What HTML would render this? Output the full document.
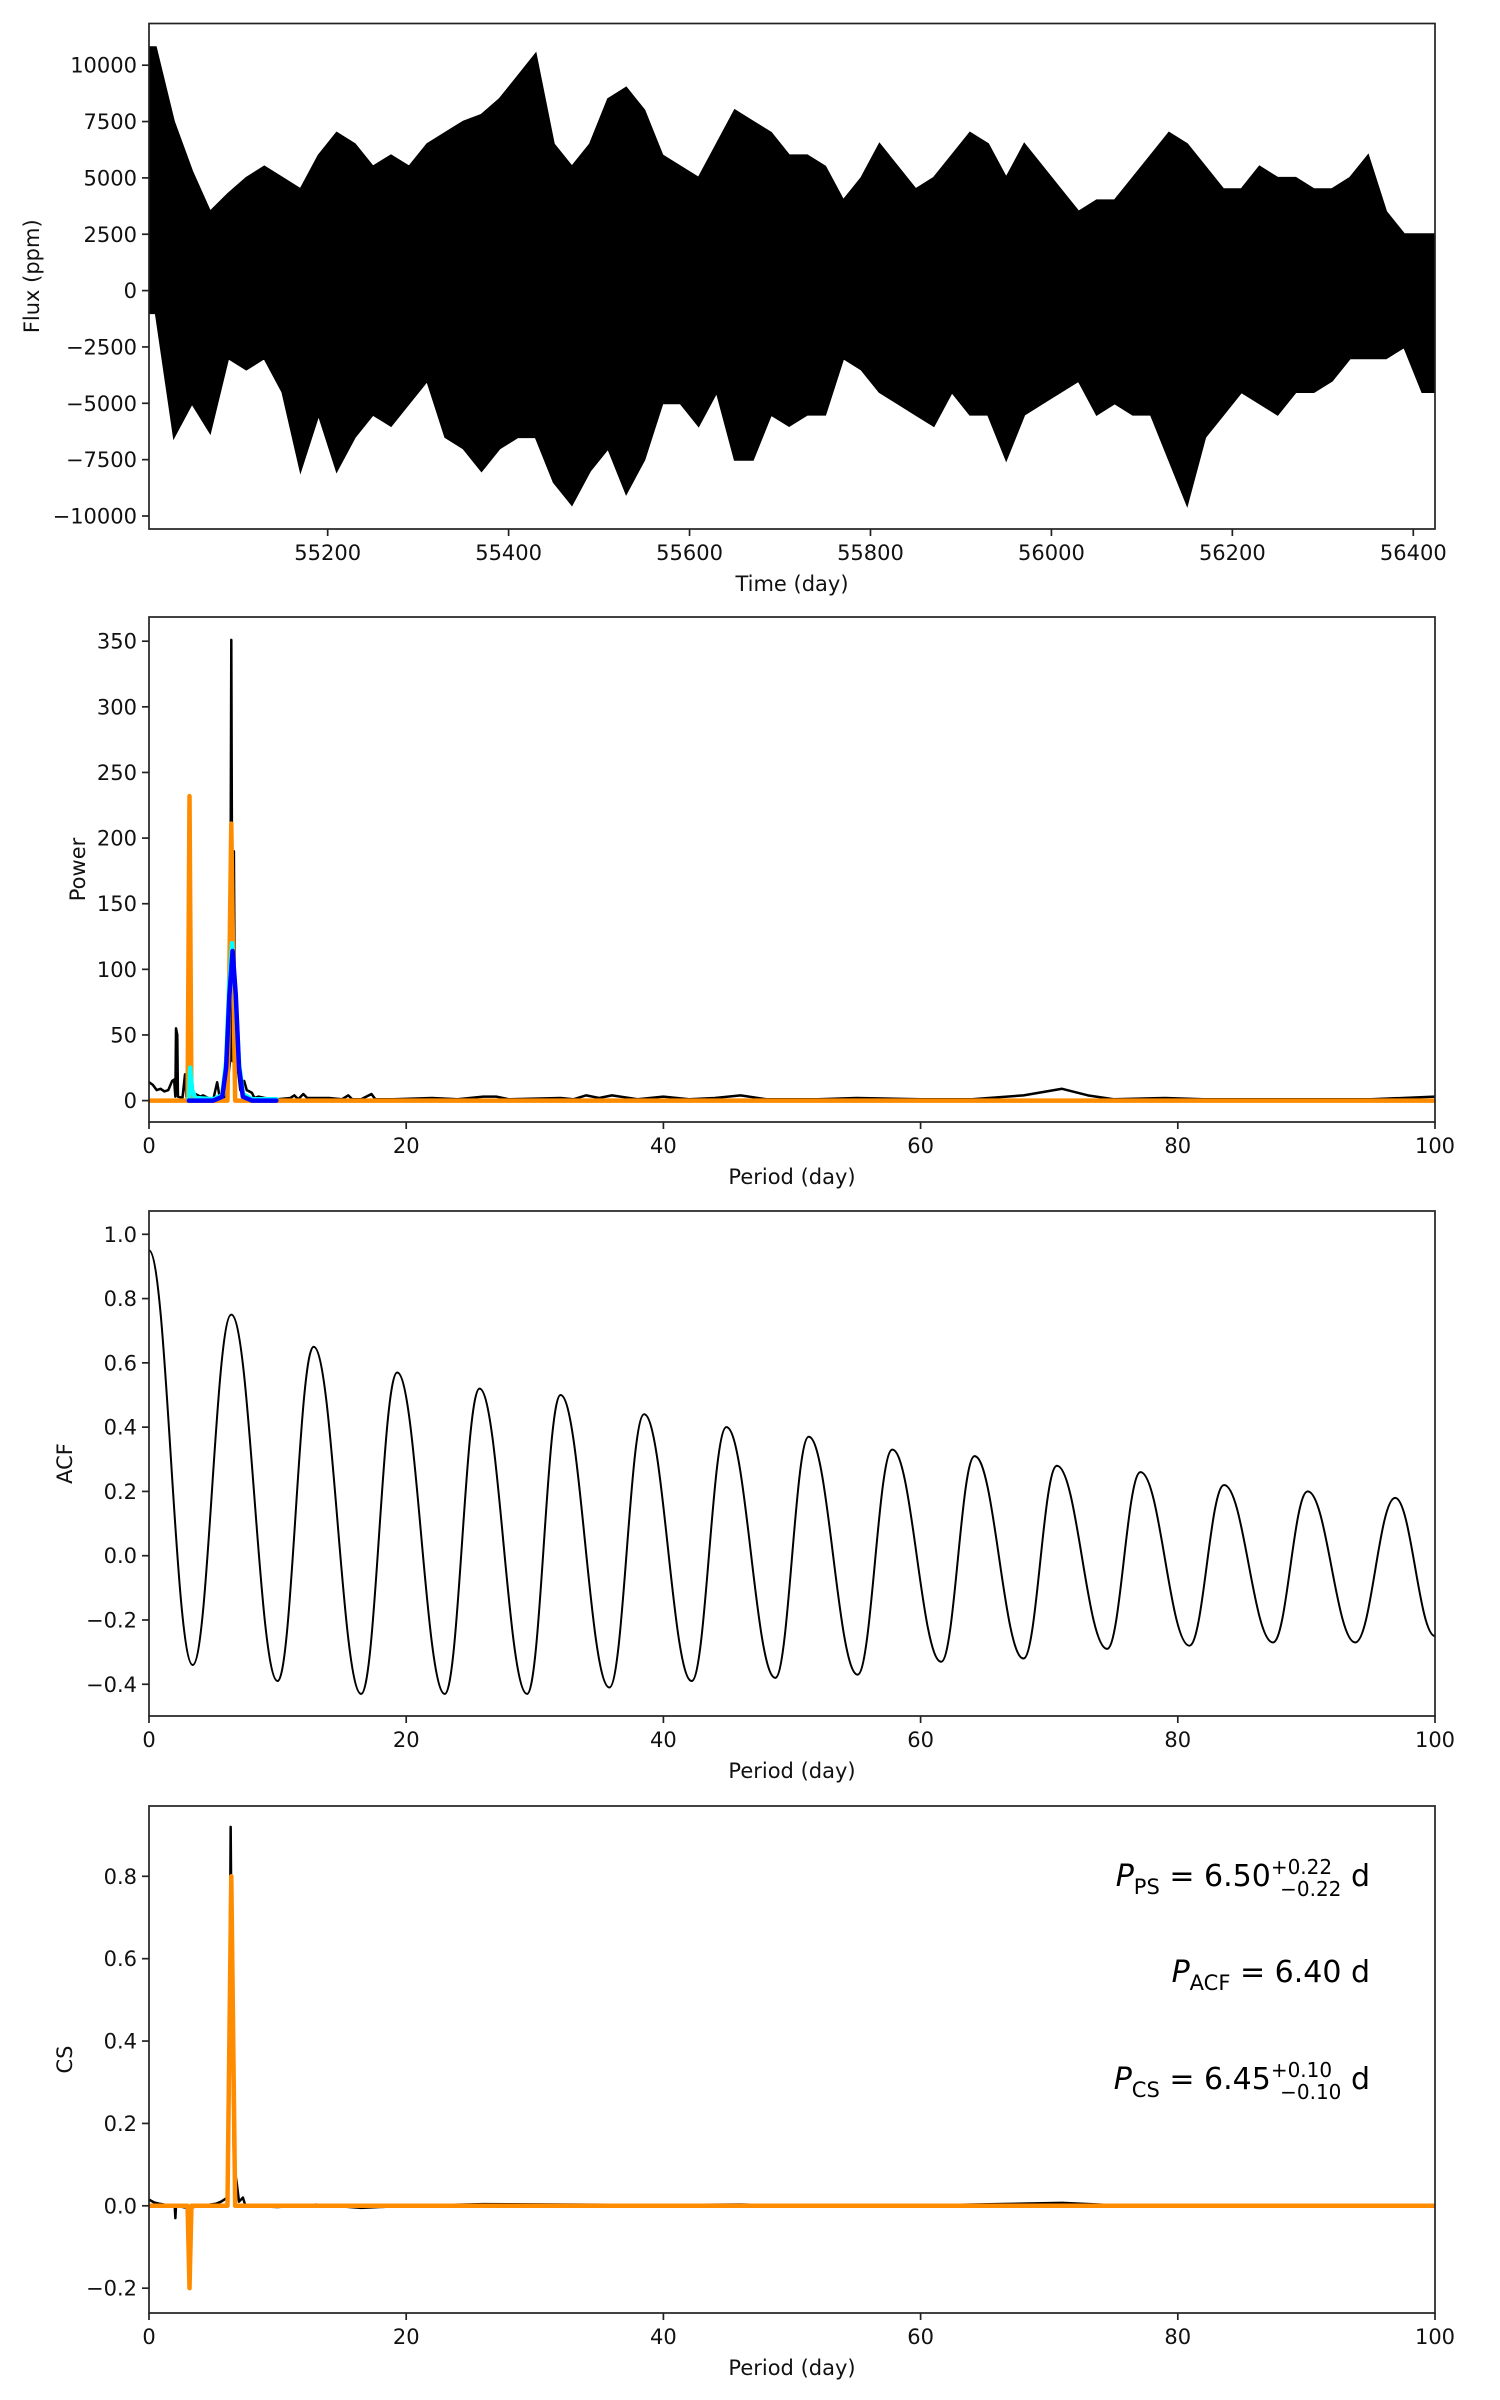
<!DOCTYPE html>
<html><head><meta charset="utf-8">
<style>
html,body{margin:0;padding:0;background:#fff;}
svg{display:block;font-family:"DejaVu Sans","Liberation Sans",sans-serif;}
</style></head>
<body>
<svg id="fig" width="1500" height="2400" viewBox="0 0 1500 2400" xmlns="http://www.w3.org/2000/svg">
<rect width="1500" height="2400" fill="#fff"/>
</svg>
<script>
// ---------- data ----------
const lcTime = [55010,55030,55050,55070,55090,55110,55130,55150,55170,55190,55210,55230,55250,55270,55290,55310,55330,55350,55370,55390,55410,55430,55450,55470,55490,55510,55530,55550,55570,55590,55610,55630,55650,55670,55690,55710,55730,55750,55770,55790,55810,55830,55850,55870,55890,55910,55930,55950,55970,55990,56010,56030,56050,56070,56090,56110,56130,56150,56170,56190,56210,56230,56250,56270,56290,56310,56330,56350,56370,56390,56410];
const lcUpper = [10800,7500,5300,3500,4300,5000,5500,5000,4500,6000,7000,6500,5500,6000,5500,6500,7000,7500,7800,8500,9500,10500,6500,5500,6500,8500,9000,8000,6000,5500,5000,6500,8000,7500,7000,6000,6000,5500,4000,5000,6500,5500,4500,5000,6000,7000,6500,5000,6500,5500,4500,3500,4000,4000,5000,6000,7000,6500,5500,4500,4500,5500,5000,5000,4500,4500,5000,6000,3500,2500,2500];
const lcLower = [-1000,-6500,-5000,-6300,-3000,-3500,-3000,-4500,-8000,-5500,-8000,-6500,-5500,-6000,-5000,-4000,-6500,-7000,-8000,-7000,-6500,-6500,-8500,-9500,-8000,-7000,-9000,-7500,-5000,-5000,-6000,-4500,-7500,-7500,-5500,-6000,-5500,-5500,-3000,-3500,-4500,-5000,-5500,-6000,-4500,-5500,-5500,-7500,-5500,-5000,-4500,-4000,-5500,-5000,-5500,-5500,-7500,-9500,-6500,-5500,-4500,-5000,-5500,-4500,-4500,-4000,-3000,-3000,-3000,-2500,-4500];
const lcYTicks = [-10000,-7500,-5000,-2500,0,2500,5000,7500,10000];
const lcXTicks = [55200,55400,55600,55800,56000,56200,56400];

const psPeriod = [0,0.3,0.6,0.9,1.2,1.5,1.8,1.95,2.05,2.1,2.2,2.25,2.6,2.8,2.9,3.3,3.6,4.0,4.2,4.6,5.0,5.3,5.5,6.0,6.3,6.4,6.5,6.6,6.7,6.9,7.1,7.4,7.6,8.0,8.2,8.5,9,10,11,11.3,11.6,12,12.3,13,14,15,15.5,15.8,16.5,17.3,17.6,19,22,24,26,27,28,32,33,34,35,36,38,40,42,44,46,48,52,55,60,64,68,71,73,75,79,82,90,95,100];
const psPower  = [14,12,8,9,7,8,15,16,3,55,50,3,2,20,3,2,5,3,4,2,1,14,2,3,30,351,30,190,20,25,8,15,8,6,2,3,2,1,2,4,1,5,2,2,2,1,4,1,1,5,1,1,2,1,3,3,1,2,1,4,2,4,1,3,1,2,4,1,1,2,1,1,4,9,4,1,2,1,1,1,3];
const psOrangeP = [0,3.0,3.15,3.3,6.1,6.25,6.4,6.55,6.7,100];
const psOrangeV = [0,0,232,0,0,100,211,100,0,0];
const psCyanP = [3.1,3.2,3.35,3.6,5,5.7,6.0,6.25,6.45,6.7,7.0,7.3,8,9.9];
const psCyanV = [0,25,8,2,1,4,30,90,120,85,28,5,1,1];
const psBlueP = [3.1,5.0,5.7,6.0,6.25,6.5,6.75,7.0,7.3,8,9.9];
const psBlueV = [0,0,3,25,80,114,80,25,3,0,0];
const psYTicks = [0,50,100,150,200,250,300,350];

const acfLag = [0,3.4,6.4,10.0,12.8,16.5,19.3,23.0,25.7,29.4,32.0,35.8,38.5,42.2,44.9,48.7,51.3,55.1,57.8,61.6,64.2,68.0,70.6,74.5,77.1,80.9,83.6,87.4,90.1,93.8,96.9,100];
const acfVal = [0.95,-0.34,0.75,-0.39,0.65,-0.43,0.57,-0.43,0.52,-0.43,0.50,-0.41,0.44,-0.39,0.40,-0.38,0.37,-0.37,0.33,-0.33,0.31,-0.32,0.28,-0.29,0.26,-0.28,0.22,-0.27,0.20,-0.27,0.18,-0.25];
const acfYTicks = [-0.4,-0.2,0.0,0.2,0.4,0.6,0.8,1.0];

const csPeriod = [0,0.4,0.8,1.2,2.0,2.05,2.1,3,5.2,5.6,6.1,6.2,6.35,6.45,6.6,6.8,7.0,7.3,7.5,10,13,16.5,20,26,32,40,46,55,71,76,100];
const csVal = [0.015,0.008,0.005,0.003,0,-0.03,0,-0.005,0.005,0.01,0.02,0.12,0.92,0.5,0.1,0.06,0.01,0.02,0,-0.003,0.003,-0.005,0,0.004,0.003,0.002,0.003,-0.002,0.007,0,0];
const csOrangeP = [0,3.0,3.15,3.3,6.1,6.4,6.7,100];
const csOrangeV = [0,0,-0.2,0,0,0.8,0,0];
const csYTicks = [-0.2,0.0,0.2,0.4,0.6,0.8];
const periodTicks = [0,20,40,60,80,100];

// ---------- drawing ----------
const NS = "http://www.w3.org/2000/svg";
const svg = document.getElementById('fig');
const L = 149, R = 1435;
function mk(tag, attrs, parent){
  const e = document.createElementNS(NS, tag);
  for (const k in attrs) e.setAttribute(k, attrs[k]);
  (parent||svg).appendChild(e);
  return e;
}
function scale(d0,d1,r0,r1){ return v => r0 + (v-d0)/(d1-d0)*(r1-r0); }
function fmt(v, dec){ const s = v.toFixed(dec); return s.replace('-', '\u2212'); }

function axes(name, top, bot, x, y, xt, yt, ydec, xlabel, ylabel, ylx){
  const g = mk('g', {});
  
  
  xt.forEach(t => {
    const px = x(t);
    const tk = mk('line', {x1:px, x2:px, y1:bot, y2:bot+7, stroke:'#222','stroke-width':1.7}, g);
    
    
    const tx = mk('text', {x:px, y:bot+31, 'font-size':21, 'text-anchor':'middle', fill:'#111'}, g);
    
    
    tx.textContent = String(t);
  });
  yt.forEach(t => {
    const py = y(t);
    const tk = mk('line', {x1:L-7, x2:L, y1:py, y2:py, stroke:'#222','stroke-width':1.7}, g);
    
    
    const tx = mk('text', {x:L-12, y:py+7.5, 'font-size':21, 'text-anchor':'end', fill:'#111'}, g);
    
    
    tx.textContent = fmt(t, ydec);
  });
  const xl = mk('text', {x:(L+R)/2, y:bot+62, 'font-size':21, 'text-anchor':'middle', fill:'#111'}, g);
  
  
  xl.textContent = xlabel;
  const cy = (top+bot)/2;
  const yl = mk('text', {x:ylx, y:cy, 'font-size':21, 'text-anchor':'middle', fill:'#111', transform:`rotate(-90 ${ylx} ${cy})`}, g);
  
  
  yl.textContent = ylabel;
  return g;
}
function frame(top, bot){
  const f = mk('rect', {x:L, y:top, width:R-L, height:bot-top, fill:'none', stroke:'#222', 'stroke-width':1.7});
  
  
}
function clip(id, top, bot){
  const d = mk('defs', {});
  const c = mk('clipPath', {id:id}, d);
  mk('rect', {x:L, y:top, width:R-L, height:bot-top}, c);
}
function poly(xs, ys, x, y, color, w, name, cid){
  const pts = xs.map((v,i) => x(v).toFixed(2)+','+y(ys[i]).toFixed(2)).join(' ');
  const p = mk('polyline', {points:pts, fill:'none', stroke:color, 'stroke-width':w, 'stroke-linejoin':'round', 'stroke-linecap':'round', 'clip-path':`url(#${cid})`});
  
  
  return p;
}

// Panel 1: light curve
(function(){
  const top=23.5, bot=529;
  const x = scale(55002.5, 56424, L, R);
  const y = scale(0, 10000, 290.6, 65.2);
  clip('c1', top, bot);
  axes('lightcurve-axes', top, bot, x, y, lcXTicks, lcYTicks, 0, 'Time (day)', 'Flux (ppm)', 39);
  let d = 'M' + x(55002.5).toFixed(1) + ',' + y(lcUpper[0]).toFixed(1);
  lcTime.forEach((t,i) => { d += ' L' + x(t).toFixed(1) + ',' + y(lcUpper[i]).toFixed(1); });
  d += ' L' + x(56424).toFixed(1) + ',' + y(lcUpper[lcUpper.length-1]).toFixed(1);
  d += ' L' + x(56424).toFixed(1) + ',' + y(lcLower[lcLower.length-1]).toFixed(1);
  for (let i=lcTime.length-1;i>=0;i--) d += ' L' + x(lcTime[i]).toFixed(1) + ',' + y(lcLower[i]).toFixed(1);
  d += ' L' + x(55002.5).toFixed(1) + ',' + y(lcLower[0]).toFixed(1) + ' Z';
  const p = mk('path', {d:d, fill:'#000', stroke:'#000', 'stroke-width':2, 'clip-path':'url(#c1)'});
  
  
  frame(top, bot);
})();

// Panel 2: power spectrum
(function(){
  const top=617, bot=1122;
  const x = scale(0, 100, L, R);
  const y = scale(0, 350, 1100.6, 641.2);
  clip('c2', top, bot);
  axes('power-axes', top, bot, x, y, periodTicks, psYTicks, 0, 'Period (day)', 'Power', 85);
  poly(psPeriod, psPower, x, y, '#000', 2.5, 'power-spectrum-line', 'c2');
  poly(psOrangeP, psOrangeV, x, y, '#ff8c00', 4.5, 'power-orange-line', 'c2');
  poly(psCyanP, psCyanV, x, y, '#00ffff', 4.5, 'power-cyan-fit', 'c2');
  poly(psBlueP, psBlueV, x, y, '#0000ff', 4.5, 'power-blue-fit', 'c2');
  frame(top, bot);
})();

// Panel 3: ACF
(function(){
  const top=1211, bot=1716;
  const x = scale(0, 100, L, R);
  const y = scale(0, 1, 1555.7, 1234.3);
  clip('c3', top, bot);
  axes('acf-axes', top, bot, x, y, periodTicks, acfYTicks, 1, 'Period (day)', 'ACF', 72);
  let d = 'M' + x(acfLag[0]).toFixed(2) + ',' + y(acfVal[0]).toFixed(2);
  for (let i=1;i<acfLag.length;i++){
    const x0=x(acfLag[i-1]), x1=x(acfLag[i]), y0=y(acfVal[i-1]), y1=y(acfVal[i]);
    const dx=(x1-x0);
    d += ` C${(x0+dx*0.4).toFixed(2)},${y0.toFixed(2)} ${(x1-dx*0.4).toFixed(2)},${y1.toFixed(2)} ${x1.toFixed(2)},${y1.toFixed(2)}`;
  }
  const p = mk('path', {d:d, fill:'none', stroke:'#000', 'stroke-width':2, 'clip-path':'url(#c3)'});
  
  
  frame(top, bot);
})();

// Panel 4: CS
(function(){
  const top=1806, bot=2313;
  const x = scale(0, 100, L, R);
  const y = scale(0, 0.8, 2205.8, 1876.3);
  clip('c4', top, bot);
  axes('cs-axes', top, bot, x, y, periodTicks, csYTicks, 1, 'Period (day)', 'CS', 72);
  poly(csPeriod, csVal, x, y, '#000', 2.5, 'cs-line', 'c4');
  poly(csOrangeP, csOrangeV, x, y, '#ff8c00', 4.5, 'cs-orange-line', 'c4');
  frame(top, bot);
})();
</script>
<svg style="position:absolute;left:0;top:0" width="1500" height="2400">
  <text x="1370" y="1886" text-anchor="end" font-family="DejaVu Sans, Liberation Sans, sans-serif" font-size="30" fill="#000"><tspan font-style="italic">P</tspan><tspan font-size="21" dy="8">PS</tspan><tspan dy="-8"> = 6.50</tspan><tspan font-size="20" dy="-12">+0.22</tspan><tspan font-size="20" dx="-52" dy="22">−0.22</tspan><tspan dy="-10"> d</tspan></text>
  <text x="1370" y="1982" text-anchor="end" font-family="DejaVu Sans, Liberation Sans, sans-serif" font-size="30" fill="#000"><tspan font-style="italic">P</tspan><tspan font-size="21" dy="8">ACF</tspan><tspan dy="-8"> = 6.40 d</tspan></text>
  <text x="1370" y="2089" text-anchor="end" font-family="DejaVu Sans, Liberation Sans, sans-serif" font-size="30" fill="#000"><tspan font-style="italic">P</tspan><tspan font-size="21" dy="8">CS</tspan><tspan dy="-8"> = 6.45</tspan><tspan font-size="20" dy="-12">+0.10</tspan><tspan font-size="20" dx="-52" dy="22">−0.10</tspan><tspan dy="-10"> d</tspan></text>
</svg>
</body></html>
